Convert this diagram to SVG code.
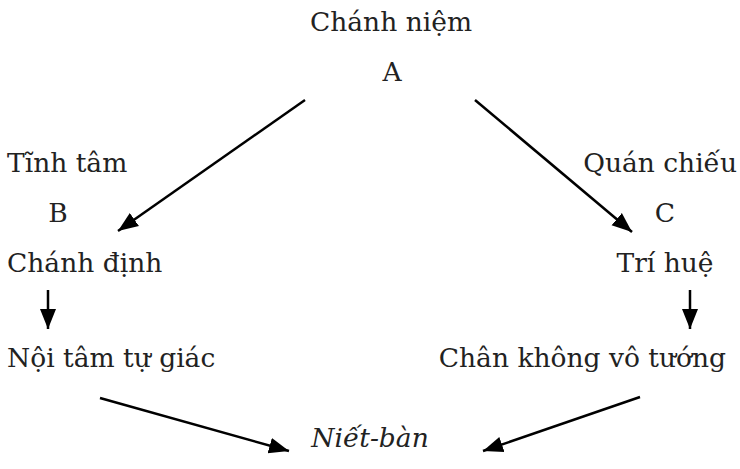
<svg xmlns="http://www.w3.org/2000/svg" width="740" height="469" viewBox="0 0 740 469">
<defs>
<marker id="ah" viewBox="0 0 10 10" refX="10" refY="5" markerWidth="8" markerHeight="8" markerUnits="strokeWidth" orient="auto">
<path d="M0,1 L10,5 L0,9 Z" fill="#000"/>
</marker>
<style>
.t{font-family:"DejaVu Serif","Liberation Serif",serif;font-size:26.5px;fill:#222;}
.i{font-style:italic;}
.c{stroke:#000;stroke-width:2.5;fill:none;marker-end:url(#ah);}
</style>
</defs>
<rect width="740" height="469" fill="#fff"/>
<g id="nodeA">
<text class="t" x="391" y="31" text-anchor="middle">Chánh niệm</text>
<text class="t" x="392" y="81" text-anchor="middle">A</text>
</g>
<g id="nodeB">
<text class="t" x="7" y="172">Tĩnh tâm</text>
<text class="t" x="58" y="222" text-anchor="middle">B</text>
<text class="t" x="7" y="272">Chánh định</text>
</g>
<g id="nodeC">
<text class="t" x="737" y="172" text-anchor="end">Quán chiếu</text>
<text class="t" x="665" y="222" text-anchor="middle">C</text>
<text class="t" x="665" y="272" text-anchor="middle">Trí huệ</text>
</g>
<g id="nodeB2">
<text class="t" x="7" y="367">Nội tâm tự giác</text>
</g>
<g id="nodeC2">
<text class="t" x="726" y="367" text-anchor="end">Chân không vô tướng</text>
</g>
<g id="nodeN">
<text class="t i" x="370" y="447" text-anchor="middle">Niết-bàn</text>
</g>
<g id="connectors">
<line class="c" x1="305" y1="100" x2="118" y2="231"/>
<line class="c" x1="475" y1="100" x2="632" y2="232"/>
<line class="c" x1="48" y1="290" x2="48" y2="329"/>
<line class="c" x1="690" y1="290" x2="690" y2="329"/>
<line class="c" x1="100" y1="398" x2="289" y2="451"/>
<line class="c" x1="640" y1="397" x2="483" y2="451"/>
</g>
</svg>
